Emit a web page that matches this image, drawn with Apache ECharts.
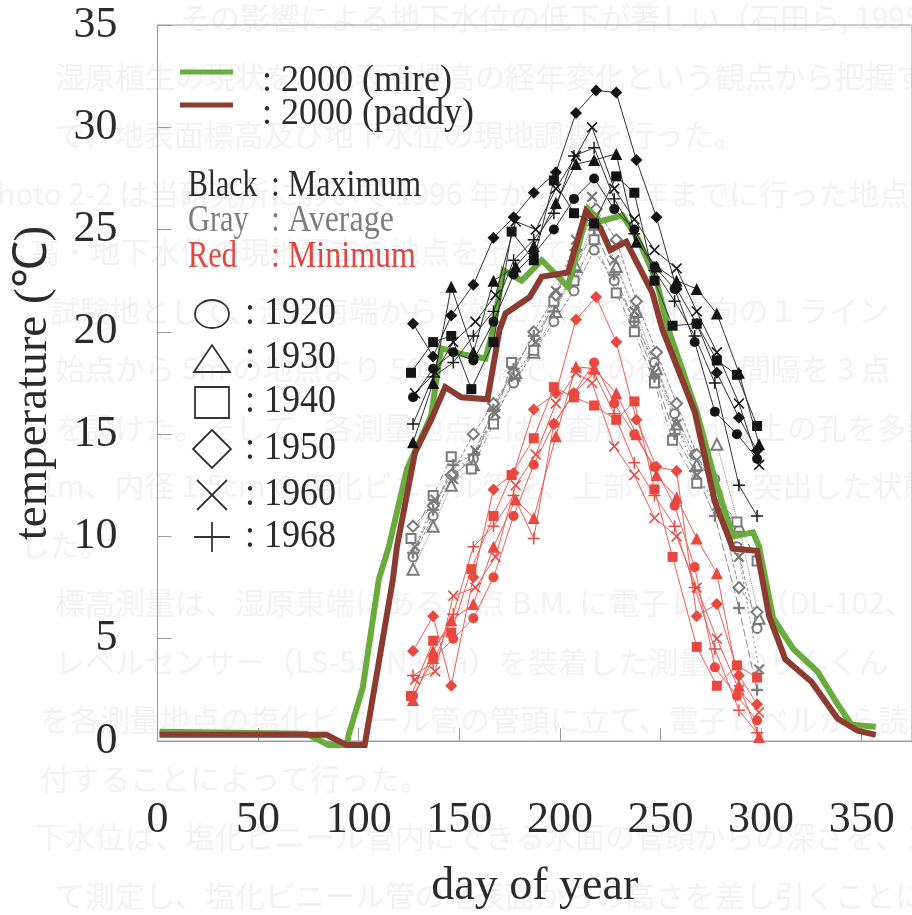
<!DOCTYPE html>
<html>
<head>
<meta charset="utf-8">
<script src="https://cdn.jsdelivr.net/npm/echarts@6/dist/echarts.min.js"></script>
<style>
html,body{margin:0;padding:0;background:#fff;}
#chart{width:912px;height:915px;}
</style>
</head>
<body>
<div id="chart"></div>
<script>
// ---- Soil temperature observations (day of year, degC) ----
// observation days for each survey year
const days1920 = [127,137,147,157,167,177,187,197,207,217,227,237,247,257,267,277,288,298];
const days1930 = [127,137,146,157,167,178,187,198,208,217,228,238,248,258,268,278,289,299];
const days1940 = [126,137,146,156,167,176,187,197,207,217,228,237,247,256,268,278,288,298];
const days1950 = [127,137,146,157,167,177,187,198,208,218,228,238,248,258,268,278,289,298];
const days1960 = [128,138,147,158,168,178,188,198,208,216,227,237,247,258,268,278,289,299];
const days1968 = [127,137,147,157,167,177,187,197,207,217,227,237,247,257,267,277,289,298];

// maximum (black)
const max1920 = [16.8,18.2,19.0,18.6,20.5,22.8,23.8,25.0,26.5,27.5,26.0,25.0,23.2,22.1,19.5,16.1,15.0,13.8];
const max1930 = [14.6,17.5,22.2,19.0,22.5,23.2,24.2,26.3,28.2,28.4,28.7,24.4,23.2,22.5,22.1,20.9,18.0,14.5];
const max1940 = [18.0,19.5,19.8,17.2,19.5,24.9,23.5,27.4,25.8,25.3,27.6,26.8,22.5,20.3,20.4,18.6,17.9,15.4];
const max1950 = [20.4,18.8,20.8,22.3,24.6,25.6,26.8,27.8,30.7,31.8,31.7,28.4,25.6,22.1,20.4,18.0,15.8,14.2];
const max1960 = [17.0,18.0,19.5,20.5,21.8,25.4,25.0,27.0,28.6,30.0,27.0,25.5,24.0,23.1,21.0,19.0,16.5,13.5];
const max1968 = [15.5,17.8,18.5,19.8,21.0,23.5,24.5,25.8,28.6,29.0,26.5,24.8,23.0,21.5,19.8,17.5,12.5,11.0];

// average (gray)
const avg1920 = [9.0,11.0,13.0,13.8,15.8,17.5,19.0,20.5,22.0,24.0,22.5,20.5,18.5,16.0,14.0,12.8,9.5,5.5];
const avg1930 = [8.4,10.5,12.5,13.5,16.4,18.0,19.0,21.0,23.2,25.5,23.2,21.0,18.2,15.5,13.5,14.5,10.5,6.0];
const avg1940 = [9.9,12.0,13.9,13.3,15.5,18.5,19.1,21.5,22.5,24.5,21.9,20.0,17.5,14.7,12.6,12.0,10.7,8.8];
const avg1950 = [10.5,11.5,13.0,15.0,16.5,18.0,20.0,21.8,24.0,26.0,24.5,21.5,19.0,16.5,14.0,12.0,7.5,6.3];
const avg1960 = [9.5,11.8,12.8,14.2,16.0,17.8,19.5,22.0,24.5,26.6,23.5,21.0,18.0,15.5,13.0,11.5,9.0,3.5];
const avg1968 = [9.2,11.3,13.5,14.0,16.2,18.2,19.8,21.0,23.0,25.0,22.8,20.5,17.8,15.0,13.2,11.0,6.5,2.5];

// minimum (red)
const min1920 = [2.2,4.0,5.0,6.0,8.0,11.0,13.5,15.5,17.0,18.5,16.5,15.0,13.4,11.5,8.5,3.6,2.2,1.0];
const min1930 = [2.0,4.4,5.9,6.7,9.5,11.8,10.9,14.9,18.3,18.2,17.0,15.0,13.0,11.9,9.9,8.2,2.7,0.2];
const min1940 = [2.2,4.9,5.3,8.4,11.0,13.0,14.8,17.3,16.8,16.4,15.7,16.6,12.3,9.0,4.6,2.7,3.7,3.1];
const min1950 = [4.4,6.1,2.7,8.0,12.3,13.1,16.2,17.0,20.6,21.7,19.5,15.7,13.4,13.2,6.1,6.7,3.2,1.8];
const min1960 = [3.0,3.4,7.1,7.5,9.0,12.5,14.0,16.5,18.0,17.5,14.4,13.0,10.9,10.0,7.5,5.0,2.5,1.4];
const min1968 = [3.2,3.8,6.2,9.5,10.5,12.0,9.9,15.5,17.0,18.0,16.0,13.6,12.0,10.5,7.5,4.5,1.5,0.4];

// 2000 continuous records
const mireDays  = [1,74,85,94,95,102,110,115,124,136,141,152,163,166,172,181,191,204,214,220,231,239,248,254,268,277,286,296,299,306,316,328,338,345,357];
const mireVals  = [0.45,0.35,-0.2,-0.2,0.3,2.6,7.9,9.5,13.3,15.9,19.2,18.9,18.7,19.8,23.0,22.5,23.5,22.2,26.0,25.4,25.7,24.5,22.5,20.1,16.1,12.8,10.0,10.2,9.5,6.0,4.5,3.4,1.8,0.8,0.7];
const paddyDays = [1,84,94,103,117,119,128,136,143,151,164,170,173,185,191,204,213,220,225,233,246,251,267,277,286,298,304,312,325,338,348,357];
const paddyVals = [0.3,0.3,-0.2,-0.2,7.9,9.5,14.1,15.7,17.3,16.8,16.7,20.1,20.9,21.7,22.7,22.9,25.9,25.1,24.0,24.4,21.9,20.1,16.1,11.7,9.4,9.3,6.1,4.0,2.9,1.1,0.5,0.3];

const years = ['1920','1930','1940','1950','1960','1968'];
const yearDays = [days1920,days1930,days1940,days1950,days1960,days1968];
const yearMax  = [max1920,max1930,max1940,max1950,max1960,max1968];
const yearAvg  = [avg1920,avg1930,avg1940,avg1950,avg1960,avg1968];
const yearMin  = [min1920,min1930,min1940,min1950,min1960,min1968];

// ---- styling ----
const SERIF = "'Liberation Serif','Times New Roman',serif";
const TXT = '#2b2b2b';
const GREEN = '#6aab3e';
const BROWN = '#8b3b30';
const RED = '#e8483f';
const GRAY = '#8a8a8a';
const X_PATH = 'path://M0,1L1,0L5,4L9,0L10,1L6,5L10,9L9,10L5,6L1,10L0,9L4,5Z';
const PLUS_PATH = 'path://M4.4,0H5.6V4.4H10V5.6H5.6V10H4.4V5.6H0V4.4H4.4Z';
const filledSymbols = ['circle','triangle','rect','diamond',X_PATH,PLUS_PATH];
const emptySymbols = ['emptyCircle','emptyTriangle','emptyRect','emptyDiamond',X_PATH,PLUS_PATH];
const symbolSizes = [10,12,10,12,11,12];
const grayDash = ['dashed','dotted',[6,3,1,3],'dashed',[2,3],[8,3]];

function pairs(d, v) { return d.map((x, i) => [x, v[i]]); }

const series = [];
years.forEach((y, i) => {
  series.push({
    name: y + ' avg', type: 'line', z: 2, silent: true,
    data: pairs(yearDays[i], yearAvg[i]),
    symbol: emptySymbols[i], symbolSize: symbolSizes[i] - 1,
    lineStyle: { color: GRAY, width: 1, type: grayDash[i] },
    itemStyle: { color: '#7a7a7a', borderColor: '#7a7a7a', borderWidth: 1 }
  });
});
series.push({
  name: '2000 (mire)', type: 'line', z: 3, silent: true, clip: false,
  data: pairs(mireDays, mireVals), symbol: 'none',
  lineStyle: { color: GREEN, width: 6, join: 'miter' }
});
series.push({
  name: '2000 (paddy)', type: 'line', z: 4, silent: true, clip: false,
  data: pairs(paddyDays, paddyVals), symbol: 'none',
  lineStyle: { color: BROWN, width: 6, join: 'miter' }
});
years.forEach((y, i) => {
  series.push({
    name: y + ' max', type: 'line', z: 5, silent: true,
    data: pairs(yearDays[i], yearMax[i]),
    symbol: filledSymbols[i], symbolSize: symbolSizes[i],
    lineStyle: { color: '#333', width: 1 },
    itemStyle: { color: '#141414' }
  });
});
years.forEach((y, i) => {
  series.push({
    name: y + ' min', type: 'line', z: 6, silent: true,
    data: pairs(yearDays[i], yearMin[i]),
    symbol: filledSymbols[i], symbolSize: symbolSizes[i],
    lineStyle: { color: '#ee5c55', width: 1 },
    itemStyle: { color: RED }
  });
});

// faint show-through lines of the printed page behind the figure
const pageLines = [
  [150, '、その影響による地下水位の低下が著しい（石田ら, 1995）。よって、試験地周辺の'],
  [55,  '湿原植生の現状を、地表面標高の経年変化という観点から把握すること'],
  [55,  'で、地表面標高及び地下水位の現地調査を行った。'],
  [-22, 'Photo 2-2 は当研究所において 1996 年から 1999 年までに行った地点'],
  [30,  '高・地下水位の現地調査の地点を示している。'],
  [50,  '試験地として、湿原南端から北端にかけて東西方向の１ライン'],
  [55,  '始点から 5m の地点より 50m 間隔で、その後 22m 間隔を 3 点'],
  [55,  'を設けた。そして、各測量地点には調査用に 5cm 以上の孔を多数'],
  [40,  '1m、内径 1.5cm の塩化ビニール管を、上部を 10cm 突出した状態'],
  [20,  'した。'],
  [55,  '標高測量は、湿原東端にある測点 B.M. に電子レベル（DL-102、Nikon'],
  [55,  'レベルセンサー（LS-5、Nikon）を装着した測量用のりんくん'],
  [40,  'を各測量地点の塩化ビニール管の管頭に立て、電子レベルから読みとり'],
  [40,  '付することによって行った。'],
  [35,  '下水位は、塩化ビニール管内にできる水面の管頭からの深さを、ス'],
  [55,  'て測定し、塩化ビニール管の地表面からの高さを差し引くことによっ']
];

const graphics = [];
pageLines.forEach((l, i) => {
  graphics.push({
    type: 'text', x: l[0], y: 18 + 58.5 * i, z: -10, silent: true,
    style: { text: l[1], font: "30px 'Noto Sans CJK JP'", fill: '#f2f2f2', verticalAlign: 'middle' }
  });
});

// legend: 2000 lines
graphics.push({ type: 'line', shape: { x1: 180, y1: 72, x2: 233, y2: 72 }, style: { stroke: GREEN, lineWidth: 5 }, z: 50 });
graphics.push({ type: 'line', shape: { x1: 180, y1: 105, x2: 233, y2: 105 }, style: { stroke: BROWN, lineWidth: 5 }, z: 50 });
function legendText(x, y, t, size, color, sy, sx) {
  graphics.push({ type: 'text', x: x, y: y, scaleY: sy || 1, scaleX: sx || 1, z: 50,
    style: { text: t, font: size + 'px ' + SERIF, fill: color, verticalAlign: 'middle' } });
}
legendText(262, 81, ': 2000 (mire)', 36, TXT, 1.05);
legendText(262, 114, ': 2000 (paddy)', 36, TXT, 1.05);
legendText(188, 186, 'Black', 32, TXT, 1.2, 0.93);
legendText(271, 186, ': Maximum', 32, TXT, 1.2);
legendText(188, 221, 'Gray', 32, '#7d7d7d', 1.2, 0.95);
legendText(271, 221, ': Average', 32, '#7d7d7d', 1.2);
legendText(188, 257, 'Red', 32, '#e0453f', 1.2, 0.95);
legendText(271, 257, ': Minimum', 32, '#e0453f', 1.2);

// legend: year symbols
const legStroke = { fill: 'none', stroke: '#333', lineWidth: 1.8 };
graphics.push({ type: 'ellipse', shape: { cx: 212, cy: 314, rx: 17, ry: 14 }, style: legStroke, z: 50 });
graphics.push({ type: 'polygon', shape: { points: [[194,372],[212,345],[230,372]] }, style: legStroke, z: 50 });
graphics.push({ type: 'rect', shape: { x: 195, y: 387, width: 34, height: 31 }, style: legStroke, z: 50 });
graphics.push({ type: 'polygon', shape: { points: [[212,430],[231,449],[212,468],[193,449]] }, style: legStroke, z: 50 });
graphics.push({ type: 'polyline', shape: { points: [[197,480],[227,510]] }, style: legStroke, z: 50 });
graphics.push({ type: 'polyline', shape: { points: [[227,480],[197,510]] }, style: legStroke, z: 50 });
graphics.push({ type: 'polyline', shape: { points: [[194,537],[230,537]] }, style: legStroke, z: 50 });
graphics.push({ type: 'polyline', shape: { points: [[212,522],[212,552]] }, style: legStroke, z: 50 });
const legendRowY = [314, 358, 402, 449, 495, 537];
years.forEach((y, i) => legendText(245, legendRowY[i], ': ' + y, 36, TXT, 1.1));

const chart = echarts.init(document.getElementById('chart'), null, { renderer: 'canvas' });
chart.setOption({
  animation: false,
  backgroundColor: '#ffffff',
  grid: { left: 157.5, right: -14, top: 25, bottom: 172, show: true, borderColor: '#9a9a9a', borderWidth: 1, backgroundColor: 'transparent' },
  xAxis: {
    type: 'value', min: 0, max: 375, interval: 50,
    name: 'day of year', nameLocation: 'middle', nameGap: 123,
    nameTextStyle: { fontFamily: SERIF, fontSize: 46, color: TXT },
    axisLine: { show: true, lineStyle: { color: '#9a9a9a', width: 1 } },
    axisTick: { show: true, inside: true, length: 13, lineStyle: { color: '#9a9a9a' } },
    axisLabel: { fontFamily: SERIF, fontSize: 44, color: TXT, margin: 57, showMaxLabel: false },
    splitLine: { show: false }
  },
  yAxis: {
    type: 'value', min: 0, max: 35, interval: 5,
    name: 'temperature (℃)', nameLocation: 'middle', nameGap: 100, nameRotate: 90,
    nameTextStyle: { fontFamily: SERIF, fontSize: 47, color: TXT },
    axisLine: { show: true, lineStyle: { color: '#9a9a9a', width: 1 } },
    axisTick: { show: true, inside: true, length: 14, lineStyle: { color: '#9a9a9a' } },
    axisLabel: { fontFamily: SERIF, fontSize: 44, color: TXT, margin: 40 },
    splitLine: { show: false }
  },
  graphic: { elements: graphics },
  series: series
});
</script>
</body>
</html>
